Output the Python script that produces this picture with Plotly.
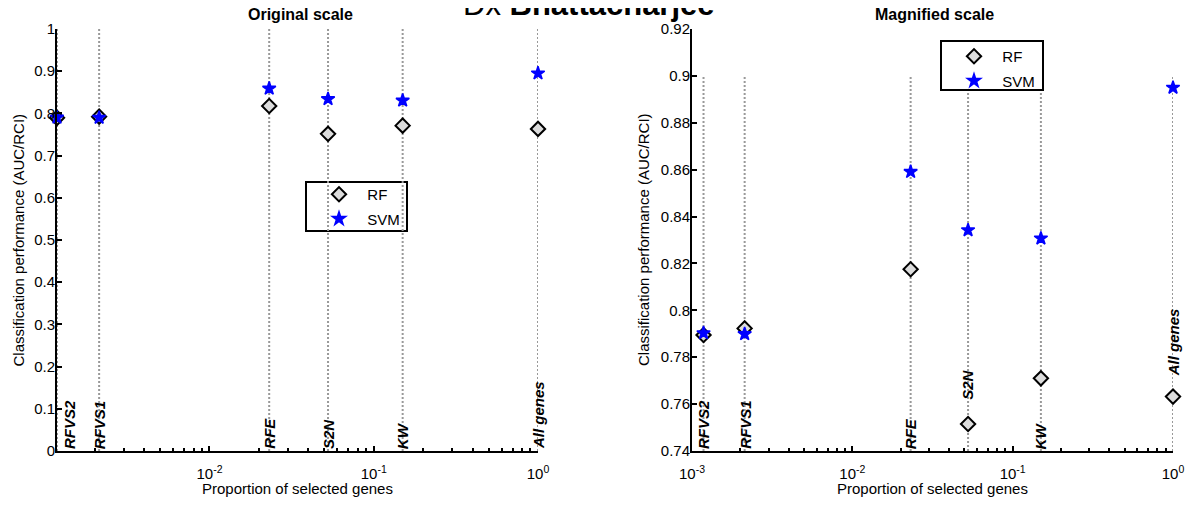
import math
import plotly.graph_objects as go

# ---------------- data ----------------
methods = ["RFVS2", "RFVS1", "RFE", "S2N", "KW", "All genes"]
proportion = [0.00118, 0.00213, 0.0231, 0.0527, 0.150, 1.0]
rf_auc = [0.7895, 0.7923, 0.8175, 0.7515, 0.7710, 0.7632]
svm_auc = [0.7903, 0.7899, 0.8591, 0.8342, 0.8307, 0.8950]

left_ytick_vals = [0, 0.1, 0.2, 0.3, 0.4, 0.5, 0.6, 0.7, 0.8, 0.9, 1.0]
left_ytick_text = ["0", "0.1", "0.2", "0.3", "0.4", "0.5", "0.6", "0.7", "0.8", "0.9", "1"]
right_ytick_vals = [0.74, 0.76, 0.78, 0.80, 0.82, 0.84, 0.86, 0.88, 0.90, 0.92]
right_ytick_text = ["0.74", "0.76", "0.78", "0.8", "0.82", "0.84", "0.86", "0.88", "0.9", "0.92"]
left_xtick_vals = [1e-2, 1e-1, 1.0]
left_xtick_text = ["10<sup>-2</sup>", "10<sup>-1</sup>", "10<sup>0</sup>"]
right_xtick_vals = [1e-3, 1e-2, 1e-1, 1.0]
right_xtick_text = ["10<sup>-3</sup>", "10<sup>-2</sup>", "10<sup>-1</sup>", "10<sup>0</sup>"]

# ---------------- layout helpers ----------------
OFF = 8                      # page body margin offset
W, H = 1195 - OFF, 506 - OFF
TOP, BOT = 29, 451           # plot area top / bottom (screen px)
PH = BOT - TOP
FONT = "Liberation Sans, Arial, sans-serif"

def px_x(p):
    return (p - OFF) / W

def px_y(p):
    return (BOT - p) / PH

minor_vals = [k * 10.0 ** e for e in (-3, -2, -1) for k in range(2, 10)]

# label base heights (where the rotated method labels start)
left_label_base = [0, 0, 0, 0, 0, 0]
right_label_base = [0.74, 0.74, 0.74, 0.761, 0.74, 0.771]

fig = go.Figure()

def guide(xs, y0, y1):
    gx, gy = [], []
    for xv in xs:
        gx += [xv, xv, None]
        gy += [y0, y1, None]
    return gx, gy

gx, gy = guide(proportion, 0, 1.0)
fig.add_trace(go.Scatter(x=gx, y=gy, mode="lines", xaxis="x", yaxis="y",
                         line=dict(color="#999999", width=2, dash="2px,2px"),
                         showlegend=False, hoverinfo="skip", cliponaxis=False))
gx, gy = guide(proportion, 0.74, 0.90)
fig.add_trace(go.Scatter(x=gx, y=gy, mode="lines", xaxis="x2", yaxis="y2",
                         line=dict(color="#999999", width=2, dash="2px,2px"),
                         showlegend=False, hoverinfo="skip", cliponaxis=False))

rf_marker = dict(symbol="diamond", size=11, color="#dcdcdc", line=dict(color="black", width=2))
svm_marker = dict(symbol="star", size=10, color="#0000ff", line=dict(color="#0000ff", width=1.5))

for xa, ya, lg in (("x", "y", "legend"), ("x2", "y2", "legend2")):
    fig.add_trace(go.Scatter(x=proportion, y=rf_auc, mode="markers", name="\u00a0\u00a0RF",
                             xaxis=xa, yaxis=ya, legend=lg, legendgroup="rf" + xa,
                             marker=rf_marker, cliponaxis=False))
    fig.add_trace(go.Scatter(x=proportion, y=svm_auc, mode="markers", name="\u00a0\u00a0SVM",
                             xaxis=xa, yaxis=ya, legend=lg, legendgroup="svm" + xa,
                             marker=svm_marker, cliponaxis=False))

axis_common = dict(showline=True, linecolor="black", linewidth=2, ticks="inside",
                   ticklen=5, tickwidth=2, tickcolor="black", showgrid=False,
                   zeroline=False, tickfont=dict(family=FONT, size=15, color="black"),
                   mirror=False, automargin=False)

xminor = dict(tickmode="array", tickvals=minor_vals, ticks="inside", ticklen=3,
              tickwidth=2, tickcolor="black", showgrid=False)

legend_common = dict(xanchor="left", yanchor="top", borderwidth=0,
                     bgcolor="rgba(0,0,0,0)", font=dict(family=FONT, size=15),
                     indentation=13, tracegroupgap=2)

fig.update_layout(
    width=W, height=H, autosize=False,
    margin=dict(l=0, r=0, t=TOP - OFF, b=H - (BOT - OFF), pad=0, autoexpand=False),
    plot_bgcolor="white", paper_bgcolor="white",
    font=dict(family=FONT, size=15, color="black"),
    xaxis=dict(type="log", domain=[px_x(57), px_x(538)],
               range=[math.log10(proportion[0]), 0], anchor="y",
               tickmode="array", tickvals=left_xtick_vals, ticktext=left_xtick_text,
               minor=xminor, ticklabelstandoff=8, **axis_common),
    yaxis=dict(domain=[0, 1], range=[0, 1], anchor="x",
               tickmode="array", tickvals=left_ytick_vals, ticktext=left_ytick_text,
               ticklabelstandoff=-3, **axis_common),
    xaxis2=dict(type="log", domain=[px_x(692), px_x(1173)],
                range=[-3, 0], anchor="y2",
                tickmode="array", tickvals=right_xtick_vals, ticktext=right_xtick_text,
                minor=xminor, ticklabelstandoff=8, **axis_common),
    yaxis2=dict(domain=[0, 1], range=[0.74, 0.92], anchor="x2",
                tickmode="array", tickvals=right_ytick_vals, ticktext=right_ytick_text,
                ticklabelstandoff=-3, **axis_common),
    legend=dict(x=px_x(306), y=px_y(178), **legend_common),
    legend2=dict(x=px_x(941), y=px_y(40), **legend_common),
    showlegend=True,
    shapes=[
        dict(type="rect", xref="paper", yref="paper", x0=px_x(306), x1=px_x(407),
             y0=px_y(231), y1=px_y(182), line=dict(color="black", width=2),
             fillcolor="white", layer="below"),
        dict(type="rect", xref="paper", yref="paper", x0=px_x(941), x1=px_x(1043),
             y0=px_y(90), y1=px_y(41), line=dict(color="black", width=2),
             fillcolor="white", layer="above"),
    ],
)

annotations = []
for i, m in enumerate(methods):
    annotations.append(dict(x=math.log10(proportion[i]), y=left_label_base[i], xref="x", yref="y",
                            text="<b><i>%s</i></b>" % m, textangle=-90, showarrow=False,
                            xanchor="left" if i == 0 else "center", yanchor="bottom",
                            xshift=2 if i == 0 else 0,
                            font=dict(family=FONT, size=15, color="black")))
    annotations.append(dict(x=math.log10(proportion[i]), y=right_label_base[i], xref="x2", yref="y2",
                            text="<b><i>%s</i></b>" % m, textangle=-90, showarrow=False,
                            xanchor="center", yanchor="bottom",
                            font=dict(family=FONT, size=15, color="black")))

annotations += [
    dict(x=px_x(589), y=px_y(4), xref="paper", yref="paper", showarrow=False,
         text="Dx <b>Bhattacharjee</b>", font=dict(family=FONT, size=31, color="black"),
         xanchor="center", yanchor="middle"),
    dict(x=px_x(300), y=px_y(15), xref="paper", yref="paper", showarrow=False,
         text="<b>Original scale</b>", font=dict(family=FONT, size=16, color="black"),
         xanchor="center", yanchor="middle"),
    dict(x=px_x(934), y=px_y(15), xref="paper", yref="paper", showarrow=False,
         text="<b>Magnified scale</b>", font=dict(family=FONT, size=16, color="black"),
         xanchor="center", yanchor="middle"),
    dict(x=px_x(17.5), y=0.5, xref="paper", yref="paper", showarrow=False,
         text="Classification performance (AUC/RCI)", textangle=-90,
         font=dict(family=FONT, size=15, color="black"), xanchor="center", yanchor="middle"),
    dict(x=px_x(643), y=0.5, xref="paper", yref="paper", showarrow=False,
         text="Classification performance (AUC/RCI)", textangle=-90,
         font=dict(family=FONT, size=15, color="black"), xanchor="center", yanchor="middle"),
    dict(x=px_x(297), y=px_y(489), xref="paper", yref="paper", showarrow=False,
         text="Proportion of selected genes", font=dict(family=FONT, size=15, color="black"),
         xanchor="center", yanchor="middle"),
    dict(x=px_x(932), y=px_y(489), xref="paper", yref="paper", showarrow=False,
         text="Proportion of selected genes", font=dict(family=FONT, size=15, color="black"),
         xanchor="center", yanchor="middle"),
]
fig.update_layout(annotations=annotations)

fig.write_html("out.html")
